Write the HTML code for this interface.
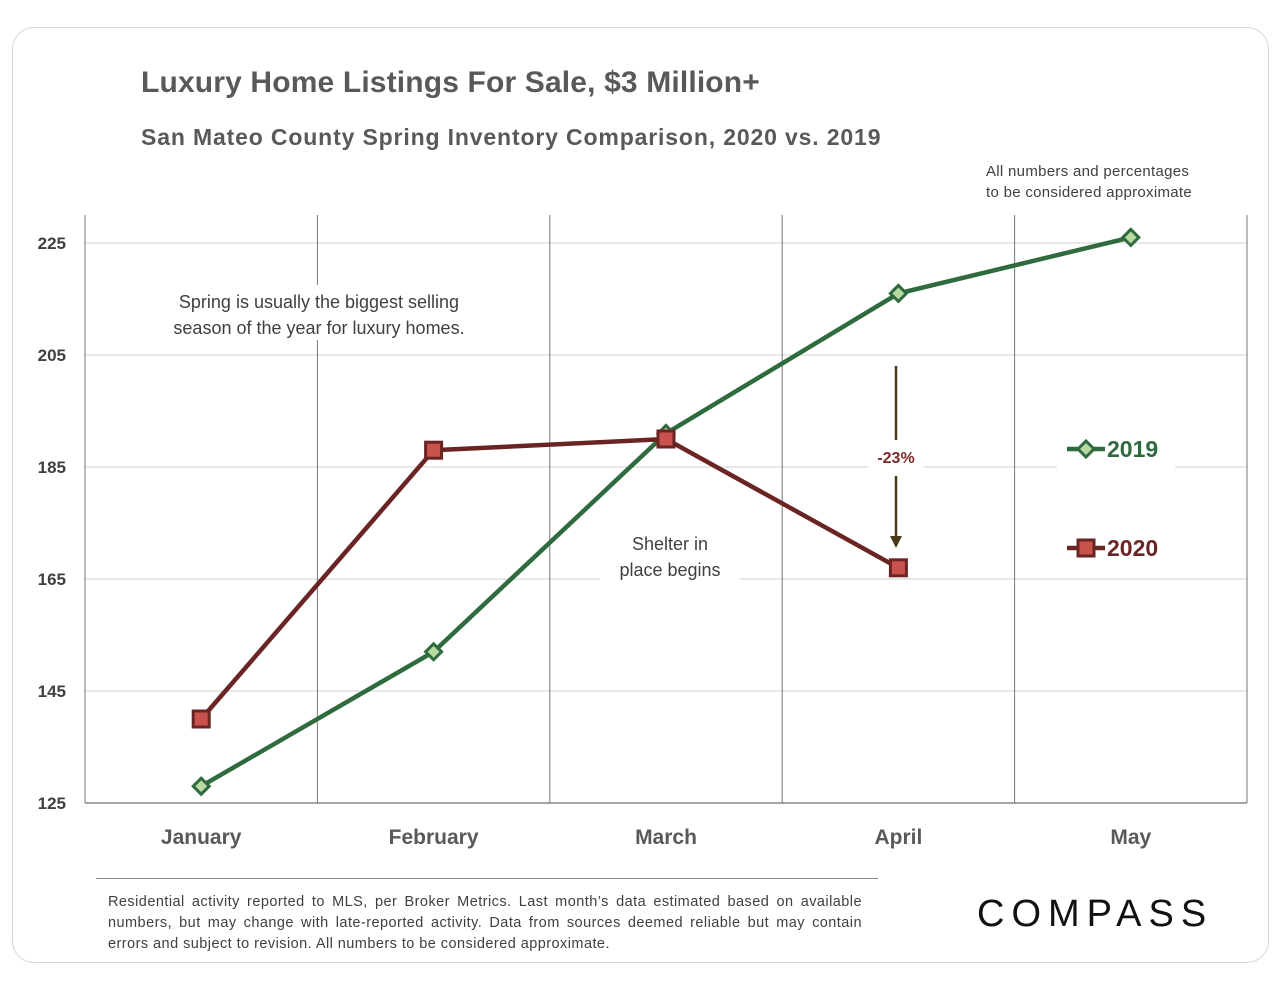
<!DOCTYPE html>
<html><head><meta charset="utf-8"><style>
body{margin:0;width:1280px;height:989px;background:#fff;font-family:"Liberation Sans",sans-serif;overflow:hidden}
.card{position:absolute;left:12px;top:27px;width:1255px;height:934px;border:1.5px solid #d6d6d6;border-radius:22px}
.t{position:absolute;white-space:nowrap;color:#555}
</style></head><body>
<div class="card"></div>
<div class="t" style="left:141px;top:66px;font-size:30px;font-weight:bold;color:#595959;letter-spacing:0.15px">Luxury Home Listings For Sale, $3 Million+</div>
<div class="t" style="left:141px;top:124px;font-size:23px;font-weight:bold;color:#595959;letter-spacing:0.85px">San Mateo County Spring Inventory Comparison, 2020 vs. 2019</div>
<div class="t" style="left:986px;top:161px;font-size:15px;line-height:21px;color:#404040;letter-spacing:0.3px">All numbers and percentages<br>to be considered approximate</div>
<svg id="chart" width="1280" height="989" style="position:absolute;left:0;top:0"></svg>
<div class="t" style="left:108px;top:892px;width:754px;font-size:14.5px;line-height:21px;color:#404040;white-space:normal;text-align:justify;letter-spacing:0.45px">Residential activity reported to MLS, per Broker Metrics. Last month’s data estimated based on available numbers, but may change with late-reported activity. Data from sources deemed reliable but may contain errors and subject to revision. All numbers to be considered approximate.</div>
<div style="position:absolute;left:96px;top:878px;width:782px;height:1px;background:#888"></div>
<div class="t" style="left:977px;top:893px;font-size:38px;color:#111;letter-spacing:7px">COMPASS</div>
<script>
const categories=["January","February","March","April","May"];
const s2019=[128,152,191,216,226];
const s2020=[140,188,190,167];
const yTicks=[125,145,165,185,205,225];
const NS="http://www.w3.org/2000/svg";
const svg=document.getElementById('chart');
const L=85,R=1247,T=215,B=803,yMin=125,yMax=230;
const band=(R-L)/categories.length;
const x=i=>L+band*(i+0.5);
const y=v=>B-(v-yMin)/(yMax-yMin)*(B-T);
function mk(tag,a){const e=document.createElementNS(NS,tag);for(const k in a)e.setAttribute(k,a[k]);svg.appendChild(e);return e;}
yTicks.forEach(v=>{
 const g=mk('line',{x1:L,x2:R,y1:y(v),y2:y(v),stroke:'#d9d9d9','stroke-width':1.3});
 
 const t=mk('text',{x:66,y:y(v)+6,'text-anchor':'end','font-size':17,'font-weight':'bold',fill:'#404040'});t.textContent=v;
 
});
for(let i=1;i<categories.length;i++){const l=mk('line',{x1:L+band*i,x2:L+band*i,y1:T,y2:B,stroke:'#777','stroke-width':1});
 }
mk('line',{x1:L,x2:L,y1:T,y2:B,stroke:'#777','stroke-width':1});
mk('line',{x1:R,x2:R,y1:T,y2:B,stroke:'#777','stroke-width':1});
mk('line',{x1:L,x2:R,y1:B,y2:B,stroke:'#777','stroke-width':1.3});
categories.forEach((c,i)=>{const t=mk('text',{x:x(i),y:B+41,'text-anchor':'middle','font-size':21,'font-weight':'bold',fill:'#595959'});t.textContent=c;
 });
[[150,285,340,55],[600,527,140,58],[868,442,56,30],[1057,428,118,40],[1057,527,118,40]].forEach(r=>mk('rect',{x:r[0],y:r[1],width:r[2],height:r[3],fill:'#fff'}));
function txt(s,xx,yy,sz,col,w,name){const t=mk('text',{x:xx,y:yy,'text-anchor':'middle','font-size':sz,fill:col,'font-weight':w});t.textContent=s;}
txt('Spring is usually the biggest selling',319,308,18,'#404040','normal','annotation-spring');
txt('season of the year for luxury homes.',319,334,18,'#404040','normal','annotation-spring-2');
txt('Shelter in',670,550,18,'#404040','normal','annotation-shelter');
txt('place  begins',670,576,18,'#404040','normal','annotation-shelter-2');
txt('-23%',896,463,16,'#7b2a2a','bold','pct-change-label');
mk('line',{x1:896,x2:896,y1:366,y2:440,stroke:'#4a3a1a','stroke-width':2.5});
mk('line',{x1:896,x2:896,y1:476,y2:538,stroke:'#4a3a1a','stroke-width':2.5});
const ah=mk('polygon',{points:'890,536 902,536 896,548',fill:'#4a3a1a'});

function series(vals,col,name){
 const p=mk('polyline',{points:vals.map((v,i)=>x(i)+','+y(v)).join(' '),fill:'none',stroke:col,'stroke-width':4.5});
 
}
series(s2019,'#2f6b3f','2019');series(s2020,'#6b2424','2020');
s2019.forEach((v,i)=>{const d=mk('polygon',{points:`${x(i)},${y(v)-8} ${x(i)+8},${y(v)} ${x(i)},${y(v)+8} ${x(i)-8},${y(v)}`,fill:'#b8d9a0',stroke:'#2f6b3f','stroke-width':3});
 });
s2020.forEach((v,i)=>{const d=mk('rect',{x:x(i)-8,y:y(v)-8,width:16,height:16,fill:'#c9524c',stroke:'#6b2424','stroke-width':3});
 });
mk('line',{x1:1067,x2:1105,y1:449,y2:449,stroke:'#2f6b3f','stroke-width':4.5});
const lg1=mk('polygon',{points:'1086,441 1094,449 1086,457 1078,449',fill:'#b8d9a0',stroke:'#2f6b3f','stroke-width':3});

mk('line',{x1:1067,x2:1105,y1:548,y2:548,stroke:'#6b2424','stroke-width':4.5});
const lg2=mk('rect',{x:1078,y:540,width:16,height:16,fill:'#c9524c',stroke:'#6b2424','stroke-width':3});

const a=mk('text',{x:1107,y:457,'font-size':23,'font-weight':'bold',fill:'#2f6b3f'});a.textContent='2019';

const b=mk('text',{x:1107,y:556,'font-size':23,'font-weight':'bold',fill:'#6b2424'});b.textContent='2020';

</script>
</body></html>
